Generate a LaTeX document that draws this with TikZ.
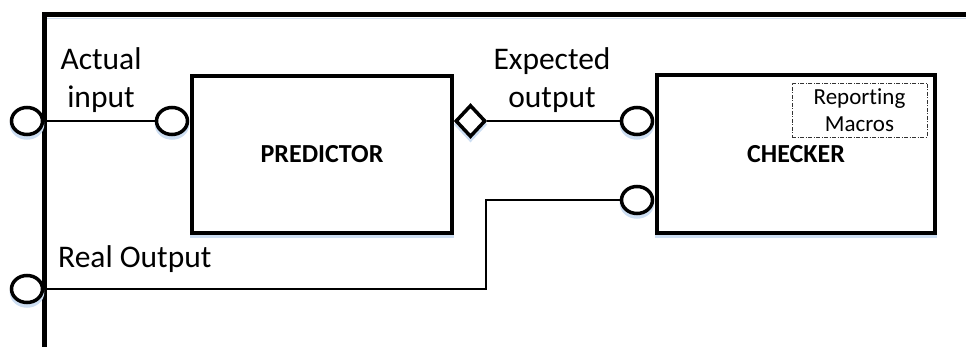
\documentclass[tikz,border=0pt]{standalone}
\usepackage{fontspec}
\setmainfont{Carlito}[Ligatures=NoCommon]
\usepackage{tikz}
\usetikzlibrary{positioning,shapes.geometric}
\definecolor{shadowblue}{RGB}{205,222,242}

\begin{document}
\begin{tikzpicture}[
	x=1pt, y=-1pt,
	ghost/.style={preaction={draw=shadowblue, transform canvas={shift={(0pt,-3.5pt)}}}},
	block/.style={
		draw,
		ghost,
		line width=3.5pt,
		fill=white,
		font=\fontsize{26}{30}\selectfont\bfseries
	},
	port/.style={draw, ghost, ellipse, line width=3.5pt, fill=white, minimum width=31pt, minimum height=27pt, inner sep=0pt},
	lbl/.style={align=center, inner sep=0pt, font=\fontsize{31.5}{38}\selectfont},
	wire/.style={line width=2pt}
	]
	
	\useasboundingbox (0,0) rectangle (966,347);
	\draw[ghost, line width=5.5pt] (966,14.5) -- (44.5,14.5) -- (44.5,347);
	
	\node[block, minimum width=260pt, minimum height=157pt] (pred) at (322,154.5) {PREDICTOR};
	\node[block, minimum width=278pt, minimum height=158pt] (chk) at (796,154) {CHECKER};
	\node[draw=black!80, line width=0.8pt, dash pattern=on 4pt off 1.5pt on 1pt off 1.5pt,
		minimum width=135pt, minimum height=54pt, inner sep=0pt, align=center,
		font=\fontsize{23}{27}\selectfont] (rep) at (859.5,110) {Reporting\\Macros};
	
	\node[port] (ext) at (27,121) {};
	\node[port, anchor=east, xshift=-1pt] (pin) at (pred.west |- ext) {};
	\node[draw, ghost, diamond, line width=3.5pt, fill=white, minimum width=30pt, minimum height=32pt, inner sep=0pt, anchor=west] (dia) at (pred.east |- ext) {};
	\node[port, anchor=east, xshift=-1pt] (exp) at (chk.west |- ext) {};
	\node[port, anchor=east, xshift=-1pt] (act) at (chk.west |- 0,200) {};
	\node[port] (real) at (27,289) {};
	\coordinate (jog) at (486,289);
	
	\draw[wire] (ext) -- (pin);
	\draw[wire] (dia) -- (exp);
	\draw[wire] (act) -| (jog) -- (real);
	
	\node[lbl] (ain) at (101,80) {Actual\\input};
	\node[lbl] (eout) at (552,80) {Expected\\output};
	\node[lbl, anchor=base west] (rout) at (58,268) {Real Output};
	
\end{tikzpicture}
\end{document}
